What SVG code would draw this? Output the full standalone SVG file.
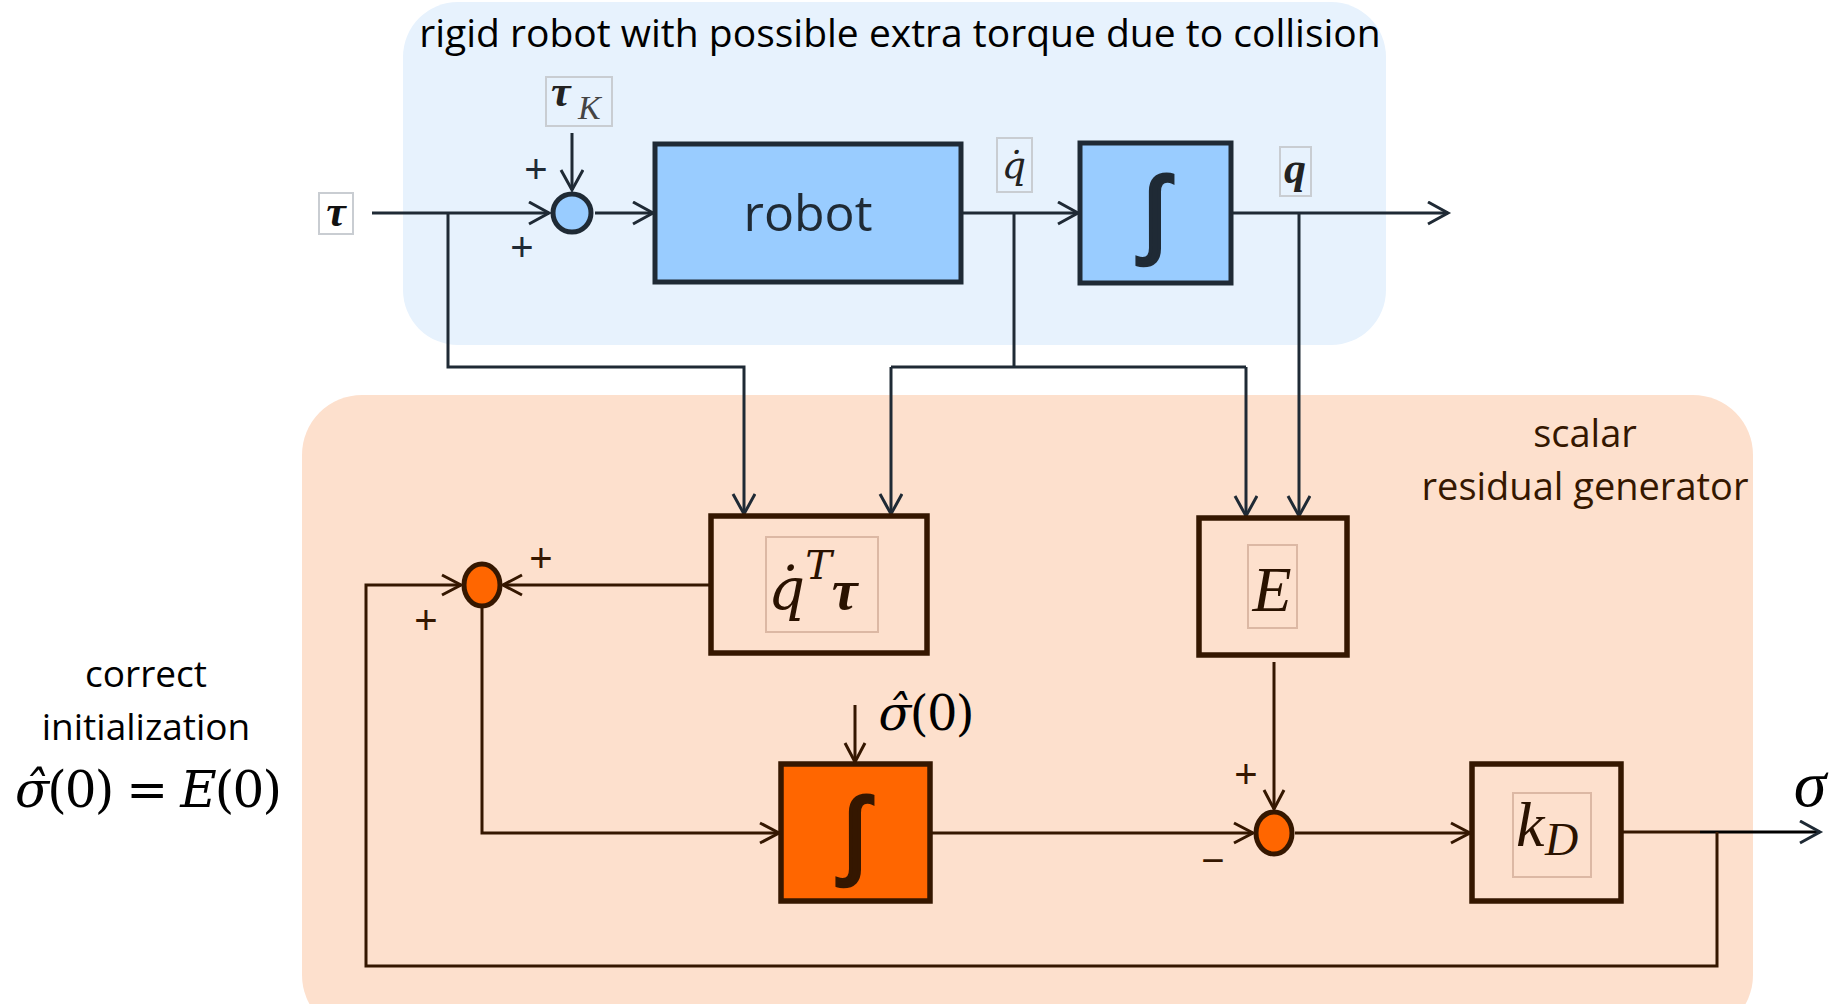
<svg xmlns="http://www.w3.org/2000/svg" width="1834" height="1004" viewBox="0 0 1834 1004">
<defs>
<style>
.txt{font-family:"Open Sans","Liberation Sans",sans-serif;}
.math{font-family:"Liberation Serif","DejaVu Serif",serif;font-style:italic;}
.dv{font-family:"DejaVu Serif",serif;font-style:italic;}
.ub{stroke:#1f2a35;stroke-width:5;}
.lb{stroke:#351700;stroke-width:5.5;}
.uline{fill:none;stroke:#1f2a35;stroke-width:3;}
.lline{fill:none;stroke:#351700;stroke-width:3;}
.lab{fill:none;stroke:#c9cdd2;stroke-width:2;}
.labo{fill:none;stroke:#dcb8a4;stroke-width:2;}
.sign{font-family:"Liberation Sans",sans-serif;font-size:40px;text-anchor:middle;}
.integ{font-family:"Liberation Sans",sans-serif;font-size:96px;text-anchor:middle;stroke-width:3.5;}
</style>
<marker id="au" markerUnits="userSpaceOnUse" markerWidth="26" markerHeight="26" refX="21" refY="12" orient="auto">
<path d="M1,1 L21,12 L1,23" fill="none" stroke="#1f2a35" stroke-width="3"/>
</marker>
<marker id="al" markerUnits="userSpaceOnUse" markerWidth="26" markerHeight="26" refX="21" refY="12" orient="auto">
<path d="M2,2 L21,12 L2,22" fill="none" stroke="#351700" stroke-width="3"/>
</marker>
</defs>
<rect width="1834" height="1004" fill="#ffffff"/>
<!-- regions -->
<g id="region-robot">
<rect x="403" y="2" width="983" height="343" rx="55" ry="55" fill="#e7f2fd"/>
<text class="txt" x="900" y="47" font-size="39" text-anchor="middle" fill="#000">rigid robot with possible extra torque due to collision</text>
</g>
<g id="region-residual">
<rect x="302" y="395" width="1451" height="640" rx="60" ry="60" fill="#fde0cd"/>
<text class="txt" x="1585" y="447" font-size="38" text-anchor="middle" fill="#351700">scalar</text>
<text class="txt" x="1585" y="500" font-size="38" text-anchor="middle" fill="#351700">residual generator</text>
</g>
<g id="label-init">
<text class="txt" x="146" y="687" font-size="37" text-anchor="middle" fill="#000">correct</text>
<text class="txt" x="146" y="740" font-size="37" text-anchor="middle" fill="#000">initialization</text>
<text x="13" y="807" font-size="50" textLength="267" lengthAdjust="spacing" fill="#000" font-family="DejaVu Serif,serif"><tspan font-style="italic">σ̂</tspan>(0) = <tspan font-style="italic">E</tspan>(0)</text>
</g>
<!-- connectors -->
<g id="connectors">
<path class="uline" d="M372,213 H549" marker-end="url(#au)"/>
<path class="uline" d="M572,133 V190" marker-end="url(#au)"/>
<path class="uline" d="M595,213 H653" marker-end="url(#au)"/>
<path class="uline" d="M963,213 H1078" marker-end="url(#au)"/>
<path class="uline" d="M1233,213 H1448" marker-end="url(#au)"/>
<path class="uline" d="M448,213 V367 H744 V514" marker-end="url(#au)"/>
<path class="uline" d="M1014,213 V367"/>
<path class="uline" d="M891,367 H1246"/>
<path class="uline" d="M891,367 V514" marker-end="url(#au)"/>
<path class="uline" d="M1246,367 V516" marker-end="url(#au)"/>
<path class="uline" d="M1299,213 V516" marker-end="url(#au)"/>
<path class="lline" d="M710,585 H503" marker-end="url(#al)"/>
<path class="lline" d="M482,607 V833 H779" marker-end="url(#al)"/>
<path class="lline" d="M855,705 V762" marker-end="url(#al)"/>
<path class="lline" d="M932,833 H1253" marker-end="url(#al)"/>
<path class="lline" d="M1274,662 V809" marker-end="url(#al)"/>
<path class="lline" d="M1295,833 H1470" marker-end="url(#al)"/>
<path class="lline" d="M1623,832 H1700"/>
<path d="M1700,832 H1820" fill="none" stroke="#000" stroke-width="3" marker-end="url(#au)"/>
<path class="lline" d="M1717,832 V966 H366 V585 H461" marker-end="url(#al)"/>
</g>
<!-- nodes -->
<g id="in-tau">
<rect class="lab" x="319" y="193" width="34" height="41" fill="#fff"/>
<text class="math" x="336" y="226" font-size="44" font-weight="bold" text-anchor="middle" fill="#111">τ</text>
</g>
<g id="in-tauK">
<rect class="lab" x="546" y="77" width="66" height="49"/>
<text class="math" x="551" y="106" font-size="44" font-weight="bold" fill="#222">τ</text>
<text class="math" x="578" y="119" font-size="34" fill="#444">K</text>
</g>
<g id="sum-top">
<circle cx="572" cy="213" r="19" fill="#99ccff" stroke="#1f2a35" stroke-width="5"/>
<text class="sign" x="536" y="183" fill="#1f2a35">+</text>
<text class="sign" x="522" y="261" fill="#1f2a35">+</text>
</g>
<g id="robot">
<rect class="ub" x="655" y="144" width="306" height="138" fill="#99ccff"/>
<text class="txt" x="808" y="231" font-size="50" text-anchor="middle" fill="#1f2a35">robot</text>
</g>
<g id="lbl-qdot">
<rect class="lab" x="997" y="138" width="35" height="54"/>
<text class="dv" x="1014" y="178" font-size="38" text-anchor="middle" fill="#222">q̇</text>
</g>
<g id="int-top">
<rect class="ub" x="1080" y="143" width="151" height="140" fill="#99ccff"/>
<text class="integ" x="1155" y="245" fill="#1f2a35" stroke="#1f2a35">∫</text>
</g>
<g id="lbl-q">
<rect class="lab" x="1280" y="147" width="31" height="49"/>
<text class="math" x="1295" y="183" font-size="44" font-weight="bold" text-anchor="middle" fill="#222">q</text>
</g>
<g id="qdot-tau">
<rect class="lb" x="711" y="516" width="216" height="137" fill="none"/>
<rect class="labo" x="766" y="537" width="112" height="95"/>
<text class="dv" x="768" y="609" font-size="58" fill="#2a1200">q̇<tspan font-size="40" dy="-30">T</tspan><tspan font-size="58" dy="30" font-weight="bold" font-family="Liberation Serif,serif">τ</tspan></text>
</g>
<g id="energy">
<rect class="lb" x="1199" y="518" width="148" height="137" fill="none"/>
<rect class="labo" x="1248" y="545" width="49" height="83"/>
<text class="math" x="1272" y="611" font-size="64" text-anchor="middle" fill="#2a1200">E</text>
</g>
<g id="sum-left">
<ellipse cx="482" cy="585" rx="18" ry="21" fill="#ff6600" stroke="#351700" stroke-width="5"/>
<text class="sign" x="541" y="572" fill="#351700">+</text>
<text class="sign" x="426" y="634" fill="#351700">+</text>
</g>
<g id="int-bottom">
<rect class="lb" x="781" y="764" width="149" height="137" fill="#ff6600"/>
<text class="integ" x="855" y="866" fill="#351700" stroke="#351700">∫</text>
<text x="877" y="730" font-size="48" textLength="96" lengthAdjust="spacing" fill="#000" font-family="DejaVu Serif,serif"><tspan font-style="italic">σ̂</tspan>(0)</text>
</g>
<g id="sum-right">
<ellipse cx="1274" cy="833" rx="18" ry="21" fill="#ff6600" stroke="#351700" stroke-width="5"/>
<text class="sign" x="1246" y="788" fill="#351700">+</text>
<text class="sign" x="1213" y="874" fill="#351700">−</text>
</g>
<g id="gain">
<rect class="lb" x="1472" y="764" width="149" height="137" fill="none"/>
<rect class="labo" x="1513" y="793" width="78" height="84"/>
<text class="math" x="1516" y="846" font-size="64" fill="#2a1200">k</text>
<text class="math" x="1545" y="855" font-size="46" fill="#2a1200">D</text>
</g>
<g id="out-sigma">
<text class="math" x="1810" y="806" font-size="66" text-anchor="middle" fill="#000">σ</text>
</g>
</svg>
